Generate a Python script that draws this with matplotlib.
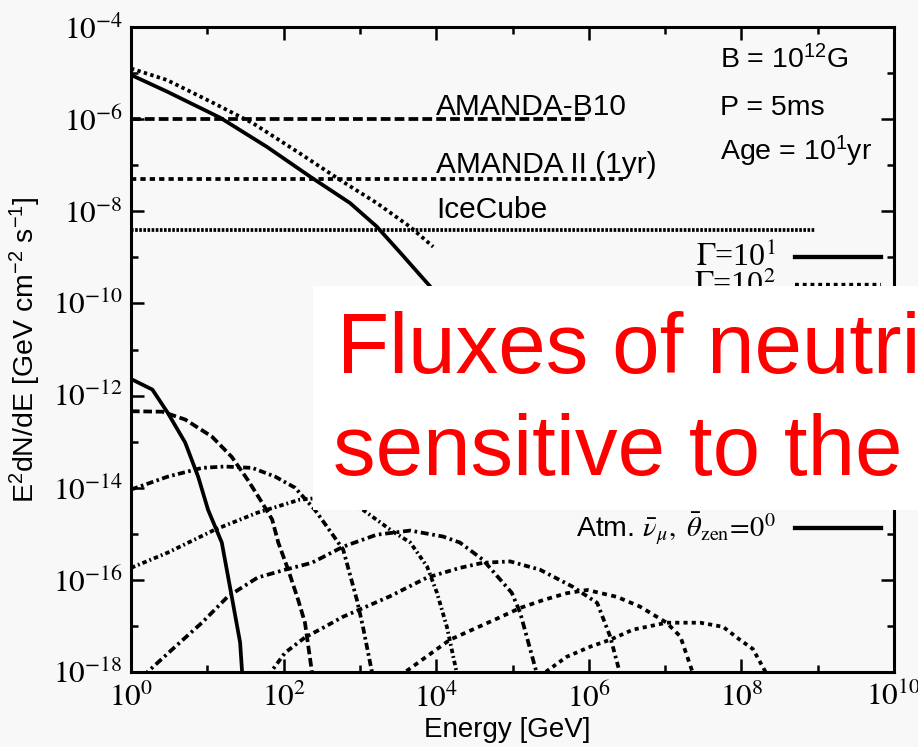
import numpy as np
import matplotlib
matplotlib.use("Agg")
import matplotlib.pyplot as plt
from matplotlib.patches import Rectangle
from matplotlib.ticker import FixedLocator, FixedFormatter, NullFormatter

plt.rcParams['font.family'] = ['Liberation Sans', 'DejaVu Sans']
plt.rcParams['mathtext.fontset'] = 'stix'
plt.rcParams['mathtext.rm'] = 'Liberation Sans'
plt.rcParams['mathtext.it'] = 'Liberation Sans:italic'
plt.rcParams['mathtext.bf'] = 'Liberation Sans:bold'

# ---------------- data (log10 E [GeV], log10 E^2 dN/dE) ----------------
g1_logE = [0, 0.47, 1.17, 1.78, 2.35, 2.87, 3.22, 3.53, 3.92, 4.2]
g1_logF = [-5.04, -5.4, -5.97, -6.6, -7.25, -7.82, -8.33, -8.9, -9.63, -10.2]

g2_logE = [0, 0.47, 1.08, 1.6, 2.21, 2.74, 3.22, 3.66, 3.96]
g2_logF = [-4.9, -5.15, -5.65, -6.09, -6.74, -7.32, -7.82, -8.34, -8.77]

atm_logE = [0, 0.28, 0.48, 0.71, 0.88, 1.01, 1.19, 1.32, 1.43, 1.46]
atm_logF = [-11.64, -11.87, -12.37, -13.02, -13.76, -14.48, -15.19, -16.36, -17.36, -18.1]

a1_logE = [0, 0.41, 0.71, 1.06, 1.32, 1.53, 1.72, 1.85, 1.93, 2.06, 2.19, 2.28, 2.38]
a1_logF = [-12.34, -12.35, -12.52, -12.89, -13.33, -13.83, -14.33, -14.69, -15.19, -15.78, -16.43, -16.93, -18.1]

a2_logE = [0, 0.48, 0.93, 1.23, 1.59, 1.89, 2.15, 2.41, 2.57, 2.78, 2.96, 3.04, 3.17]
a2_logF = [-14.04, -13.76, -13.57, -13.54, -13.57, -13.76, -14.0, -14.48, -14.85, -15.34, -16.43, -17.02, -18.1]

a3_logE = [0, 0.48, 1.1, 1.66, 2.21, 2.6, 3.04, 3.43, 3.66, 3.88, 4.01, 4.14, 4.28]
a3_logF = [-15.74, -15.41, -14.91, -14.54, -14.26, -14.2, -14.48, -14.95, -15.19, -15.71, -16.28, -17.02, -18.1]

a4_logE = [0.15, 0.58, 0.93, 1.27, 1.66, 2.02, 2.37, 2.78, 3.22, 3.66, 4.09, 4.31, 4.61, 4.99, 5.1, 5.33]
a4_logF = [-18.1, -17.45, -16.93, -16.36, -15.95, -15.78, -15.63, -15.28, -15.02, -14.93, -15.06, -15.19, -15.56, -16.28, -16.71, -18.1]

a5_logE = [1.79, 2.02, 2.28, 2.54, 2.78, 3.39, 3.88, 4.31, 4.61, 4.97, 5.36, 5.79, 6.11, 6.28, 6.42]
a5_logF = [-18.1, -17.58, -17.25, -17.02, -16.8, -16.36, -15.95, -15.74, -15.63, -15.6, -15.78, -16.15, -16.5, -17.23, -18.1]

a6_logE = [3.51, 4.18, 4.84, 5.1, 5.4, 5.71, 5.98, 6.37, 6.67, 7.02, 7.2, 7.38]
a6_logF = [-18.1, -17.3, -16.81, -16.61, -16.44, -16.29, -16.22, -16.37, -16.58, -16.93, -17.23, -18.1]

a7_logE = [5.35, 5.71, 6.02, 6.28, 6.58, 7.02, 7.46, 7.76, 7.98, 8.15, 8.35]
a7_logF = [-18.1, -17.67, -17.45, -17.3, -17.08, -16.93, -16.93, -17.02, -17.3, -17.5, -18.1]

# detector sensitivities: (name, log10 flux, log10 E end)
sens_names = ['AMANDA-B10', 'AMANDA II (1yr)', 'IceCube']
sens_logF = [-6.0, -7.3, -8.4]
sens_logE_end = [6.0, 6.45, 8.96]

xtick_exp = [0, 2, 4, 6, 8, 10]
ytick_exp = [-18, -16, -14, -12, -10, -8, -6, -4]

BG = '#f8f8f8'
LW = 2.7

fig = plt.figure(figsize=(9.18, 7.47), dpi=100, facecolor=BG)
ax = fig.add_axes([131/918, 1-672/747, 763/918, 645/747], facecolor=BG)

def P(le, lf, **kw):
    ax.plot(10.0**np.array(le), 10.0**np.array(lf), color='black', lw=LW,
            solid_capstyle='butt', dash_capstyle='butt', **kw)

P(g1_logE, g1_logF, ls='-')
P(g2_logE, g2_logF, ls=(0, (0.9, 0.9)))
P(atm_logE, atm_logF, ls='-')
P(a1_logE, a1_logF, ls=(0, (2.3, 1.0)))
P(a2_logE, a2_logF, ls=(0, (1.9, 0.9, 0.7, 0.9)))
P(a3_logE, a3_logF, ls=(0, (1.2, 0.8, 0.5, 0.8)))
P(a4_logE, a4_logF, ls=(0, (2.1, 1.0, 0.7, 1.0)))
P(a5_logE, a5_logF, ls=(0, (1.6, 1.0, 0.7, 1.0)))
P(a6_logE, a6_logF, ls=(0, (1.3, 1.2)))
P(a7_logE, a7_logF, ls=(0, (1.1, 1.1)))

sens_styles = [(0, (2.6, 1.1)), (0, (1.4, 1.1)), (0, (0.7, 0.4))]
for name, lf, le, st in zip(sens_names, sens_logF, sens_logE_end, sens_styles):
    ax.plot([1.0, 10.0**le], [10.0**lf, 10.0**lf], color='black', lw=LW,
            ls=st, dash_capstyle='butt')

# labels of sensitivities
lab_y = [-5.91, -7.17, -8.15]
for name, ly in zip(sens_names, lab_y):
    ax.text(10**4.0, 10**ly, name, fontsize=21.5, va='baseline', ha='left')

# parameters
ax.text(10**7.72, 10**-4.89, r'B = 10$^{12}$G', fontsize=20.5, va='baseline',
        math_fontfamily='custom')
ax.text(10**7.72, 10**-5.91, 'P = 5ms', fontsize=20.5, va='baseline')
ax.text(10**7.72, 10**-6.89, r'Age = 10$^{1}$yr', fontsize=20.5, va='baseline',
        math_fontfamily='custom')

# legend (manual, gnuplot-like)
leg_x_text = 10**8.45
leg_line = [10**8.70, 10**9.83]
leg = [
    (r'$\mathit{\Gamma}$=10$^{1}$', -8.99, '-'),
    (r'$\mathit{\Gamma}$=10$^{2}$', -9.61, (0, (0.9, 0.9))),
    (r'Atm. $\bar{\nu}_{\mu},\ \bar{\theta}_{\mathrm{zen}}\!=\!0^{0}$', -14.87, '-'),
]
for txt, ly, st in leg:
    fam = 'Liberation Serif' if txt.startswith('$') else 'Liberation Sans'
    fs = 23 if txt.startswith('$') else 20.5
    ax.text(leg_x_text, 10**ly, txt, fontsize=fs, ha='right', va='center',
            family=fam)
    ax.plot(leg_line, [10**ly, 10**ly], color='black', lw=LW + 0.4, ls=st,
            dash_capstyle='butt')

ax.set_xscale('log')
ax.set_yscale('log')
ax.set_xlim(1, 1e10)
ax.set_ylim(1e-18, 1e-4)

ax.xaxis.set_major_locator(FixedLocator([10.0**k for k in xtick_exp]))
ax.xaxis.set_minor_locator(FixedLocator([10.0**k for k in range(1, 10, 2)]))
ax.xaxis.set_major_formatter(FixedFormatter([r'$10^{%d}$' % k for k in xtick_exp]))
ax.xaxis.set_minor_formatter(NullFormatter())
ax.yaxis.set_major_locator(FixedLocator([10.0**k for k in ytick_exp]))
ax.yaxis.set_minor_locator(FixedLocator([10.0**k for k in range(-17, -4, 2)]))
ax.yaxis.set_major_formatter(FixedFormatter([r'$10^{%d}$' % k for k in ytick_exp]))
ax.yaxis.set_minor_formatter(NullFormatter())

ax.tick_params(which='both', direction='in', top=True, right=True, width=1.8)
ax.tick_params(which='major', length=9.5, labelsize=22.5)
ax.tick_params(which='minor', length=5)
ax.tick_params(axis='x', which='major', pad=8)
ax.tick_params(axis='y', which='major', pad=6)
for s in ax.spines.values():
    s.set_linewidth(2.2)

ax.set_xlabel('Energy [GeV]', fontsize=20, va='center')
ax.xaxis.set_label_coords(0.493, -0.0895)
ax.set_ylabel(r'E$^{2}$dN/dE [GeV cm$^{-2}$ s$^{-1}$]', fontsize=20.5,
              va='center', math_fontfamily='custom')
ax.yaxis.set_label_coords(-0.139, 0.5)

# slide overlay box with red text
fig.add_artist(Rectangle((313/918, 1-510/747), (918-313)/918, (510-286)/747,
                         transform=fig.transFigure, facecolor='white',
                         edgecolor='none', zorder=10))
fig.text(337/918, 1-373/747, 'Fluxes of neutri', color='#ff0000', fontsize=61.5,
         va='baseline', ha='left', zorder=11)
fig.text(333/918, 1-475/747, 'sensitive to the', color='#ff0000', fontsize=61.5,
         va='baseline', ha='left', zorder=11)

fig.savefig('out.png', dpi=100, facecolor=BG)
